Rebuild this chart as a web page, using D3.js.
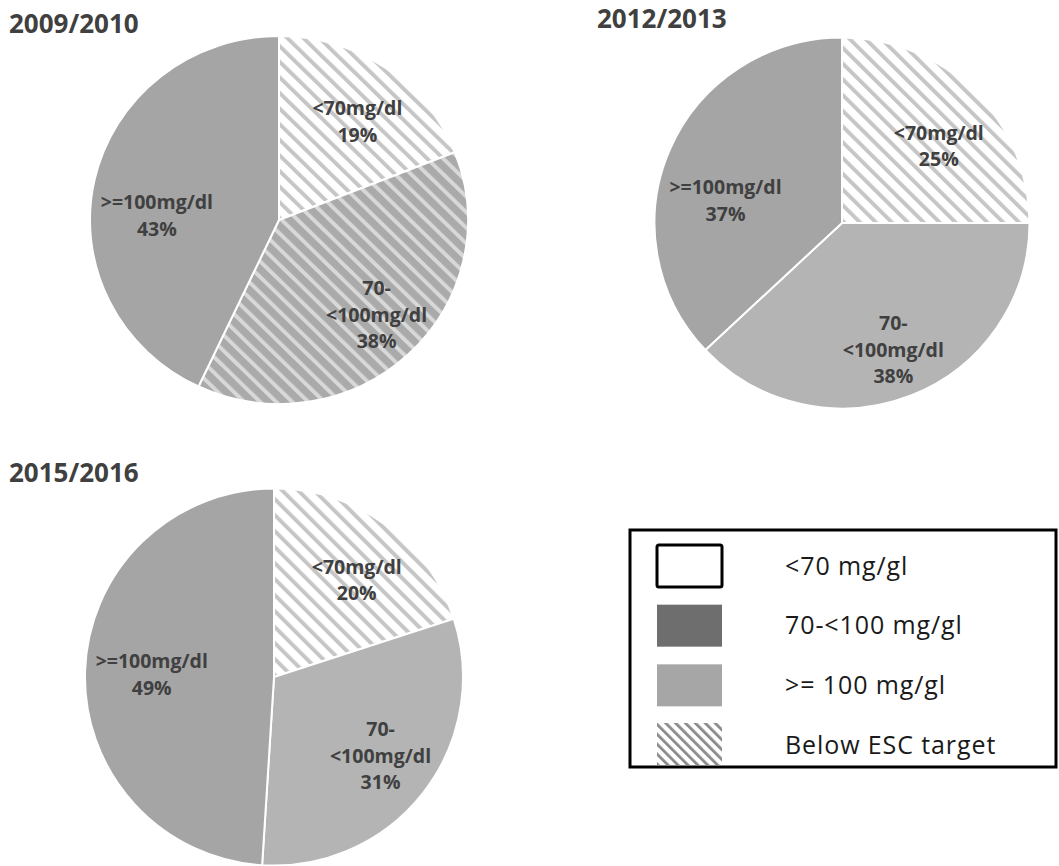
<!DOCTYPE html>
<html>
<head>
<meta charset="utf-8">
<script src="https://cdn.jsdelivr.net/npm/d3@7"></script>
<style>
  body { margin: 0; background: #fff; }
  svg { display: block; }
</style>
</head>
<body>
<svg id="chart" width="1059" height="866"></svg>
<script>
// LDL-cholesterol distribution per survey period (percent of patients)
const categories = ["<70mg/dl", "70-<100mg/dl", ">=100mg/dl"];
const categoryLines = [["<70mg/dl"], ["70-", "<100mg/dl"], [">=100mg/dl"]];
const periods = ["2009/2010", "2012/2013", "2015/2016"];
const shares2009 = [19, 38, 43];
const shares2012 = [25, 38, 37];
const shares2015 = [20, 31, 49];
// which categories fall below the ESC target in each period
const belowTarget2009 = [true, true, false];
const belowTarget2012 = [true, false, false];
const belowTarget2015 = [true, false, false];
const legendLabels = ["<70 mg/gl", "70-<100 mg/gl", ">= 100 mg/gl", "Below ESC target"];

const svg = d3.select("#chart");
const defs = svg.append("defs");

// base fill per category, plus the base and stripe colours used when hatched
const baseColor = d3.scaleOrdinal().domain(categories).range(["#ffffff", "#b4b4b4", "#a5a5a5"]);
const hatchBase = d3.scaleOrdinal().domain(categories).range(["#ffffff", "#aaaaaa", "#a5a5a5"]);
const stripeColor = d3.scaleOrdinal().domain(categories).range(["#c6c6c6", "#d8d8d8", "#cfcfcf"]);

function makeHatch(id, base, stripe, period, width) {
  const p = defs.append("pattern")
    .attr("id", id)
    .attr("patternUnits", "userSpaceOnUse")
    .attr("width", period)
    .attr("height", period)
    .attr("patternTransform", "rotate(-45)");
  p.append("rect").attr("width", period).attr("height", period).attr("fill", base);
  p.append("rect").attr("width", width).attr("height", period).attr("fill", stripe);
}
categories.forEach((c, i) => {
  makeHatch("hatch-" + i, hatchBase(c), stripeColor(c), 6, 2.1);
});
makeHatch("hatch-legend", "#ffffff", "#8a8a8a", 7, 2.8);

// layout of the three pies; labelShift offsets each slice label from its centroid
const panels = [
  { title: periods[0], values: shares2009, below: belowTarget2009, cx: 279, cy: 220, rx: 189, ry: 184, tx: 9, ty: 33,
    labelShift: [[4, 8], [7, 1], [7, 24]] },
  { title: periods[1], values: shares2012, below: belowTarget2012, cx: 842, cy: 223, rx: 187.5, ry: 185.5, tx: 597, ty: 28,
    labelShift: [[4, 15], [3, 6], [4, 29]] },
  { title: periods[2], values: shares2015, below: belowTarget2015, cx: 274, cy: 677, rx: 189, ry: 188.5, tx: 9, ty: 482,
    labelShift: [[5, 10], [2, -2], [10, 2]] }
];

const pie = d3.pie().sort(null).value(d => d.value);

panels.forEach(panel => {
  const data = categories.map((c, i) => ({ cat: c, idx: i, value: panel.values[i], below: panel.below[i] }));
  const arcs = pie(data);
  const R = 100;
  const arc = d3.arc().innerRadius(0).outerRadius(R);
  const labelArc = d3.arc().innerRadius(R * 0.7).outerRadius(R * 0.7);

  svg.append("text")
    .attr("x", panel.tx)
    .attr("y", panel.ty)
    .attr("font-family", "'Open Sans', sans-serif")
    .attr("font-weight", 700)
    .attr("font-size", 26)
    .attr("fill", "#404040")
    .text(panel.title);

  const g = svg.append("g")
    .attr("transform", `translate(${panel.cx},${panel.cy}) scale(${panel.rx / R},${panel.ry / R})`);

  g.selectAll("path")
    .data(arcs)
    .join("path")
    .attr("d", arc)
    .attr("fill", d => d.data.below ? `url(#hatch-${d.data.idx})` : baseColor(d.data.cat))
    .attr("stroke", "#ffffff")
    .attr("stroke-width", 2 * R / panel.rx)
    .attr("stroke-linejoin", "round");

  // labels placed outside the scaled group so the text is not distorted
  const lineH = 26.5;
  arcs.forEach(a => {
    const [lx, ly] = labelArc.centroid(a);
    const [sx, sy] = panel.labelShift[a.data.idx];
    const x = panel.cx + lx * panel.rx / R + sx;
    const y = panel.cy + ly * panel.ry / R + sy;
    const lines = categoryLines[a.data.idx].concat([a.data.value + "%"]);
    const t = svg.append("text")
      .attr("font-family", "'Open Sans', sans-serif")
      .attr("font-weight", 700)
      .attr("font-size", 19.5)
      .attr("fill", "#404040")
      .attr("text-anchor", "middle");
    lines.forEach((s, k) => {
      t.append("tspan")
        .attr("x", x)
        .attr("y", y + (k - (lines.length - 1) / 2) * lineH)
        .attr("dy", "0.35em")
        .text(s);
    });
  });
});

// legend
const legend = svg.append("g");
legend.append("rect")
  .attr("x", 630).attr("y", 530)
  .attr("width", 426).attr("height", 237)
  .attr("fill", "#ffffff")
  .attr("stroke", "#000000")
  .attr("stroke-width", 3);

const legendY = d3.scalePoint().domain(legendLabels).range([566, 745]);
const swatchFill = ["#ffffff", "#6e6e6e", "#a6a6a6", "url(#hatch-legend)"];
legendLabels.forEach((lab, i) => {
  const y = legendY(lab);
  const sw = legend.append("rect")
    .attr("x", 657).attr("width", 65)
    .attr("y", i === 3 ? y - 22 : y - 21).attr("height", 42)
    .attr("fill", swatchFill[i]);
  if (i === 0) sw.attr("stroke", "#000").attr("stroke-width", 3).attr("rx", 2);
  legend.append("text")
    .attr("x", 785)
    .attr("y", y)
    .attr("dy", "0.35em")
    .attr("font-family", "'Open Sans', sans-serif")
    .attr("font-size", 25)
    .attr("letter-spacing", 0.9)
    .attr("fill", "#1a1a1a")
    .text(lab);
});
</script>
</body>
</html>
